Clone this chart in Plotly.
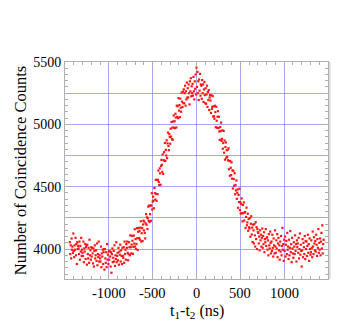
import numpy as np
import plotly.graph_objects as go

# time difference bins (ns), 5 ns spacing
x_start = -1445
x_step = 5

counts = [
    4055, 3960, 4030, 3925, 4085, 3995, 4020, 3970, 4125, 3985,
    3935, 4030, 3995, 4090, 3950, 4040, 3880, 4055, 4000, 4025,
    4005, 3960, 4060, 3915, 4025, 3980, 4090, 3945, 3995, 3970,
    3945, 4060, 3895, 4005, 3980, 4040, 3920, 4015, 4030, 3875,
    4035, 3960, 3925, 4010, 3890, 4075, 3950, 3990, 3915, 4015,
    3940, 4010, 3965, 3885, 4005, 3860, 3985, 4030, 3925, 3950,
    3990, 3905, 4045, 3870, 3960, 3935, 4060, 3900, 3950, 3925,
    3900, 4020, 3855, 3965, 3940, 3995, 3880, 3975, 4000, 3835,
    4000, 3925, 3890, 3975, 3855, 4040, 3915, 3955, 3880, 3980,
    3915, 3985, 3940, 3860, 3975, 3810, 3960, 4005, 3895, 3930,
    3985, 3900, 4030, 3865, 3950, 3920, 4055, 3895, 3945, 3970,
    3910, 4010, 3875, 3980, 3955, 4035, 3900, 3990, 3945, 3880,
    4010, 3945, 3930, 4015, 3890, 4060, 3960, 3995, 3915, 4040,
    4010, 4060, 3970, 3910, 3960, 4055, 4015, 3950, 4110, 4015,
    3965, 4036, 4106, 4067, 3962, 4018, 4108, 4044, 4159, 4020,
    4080, 4001, 4041, 4167, 4087, 3993, 4138, 4169, 4089, 4145,
    4075, 4172, 4223, 4060, 4127, 4168, 4065, 4197, 4228, 4150,
    4220, 4130, 4085, 4205, 4280, 4195, 4255, 4160, 4245, 4340,
    4225, 4348, 4217, 4280, 4348, 4227, 4350, 4448, 4317, 4380,
    4420, 4388, 4327, 4490, 4448, 4397, 4555, 4443, 4387, 4555,
    4440, 4554, 4629, 4538, 4513, 4647, 4607, 4516, 4666, 4715,
    4675, 4619, 4759, 4603, 4713, 4777, 4707, 4851, 4706, 4795,
    4750, 4872, 4729, 4847, 4934, 4826, 4793, 4921, 4898, 4845,
    4965, 4902, 5019, 4882, 4974, 4876, 5023, 5071, 4973, 5025,
    4970, 5085, 5055, 4975, 5150, 5060, 5145, 5050, 5210, 5110,
    5155, 5058, 5206, 5133, 5101, 5254, 5182, 5139, 5262, 5170,
    5280, 5170, 5250, 5310, 5150, 5265, 5200, 5335, 5215, 5290,
    5215, 5320, 5250, 5160, 5345, 5265, 5370, 5225, 5305, 5250,
    5325, 5230, 5380, 5265, 5200, 5345, 5285, 5400, 5240, 5455,
    5300, 5420, 5250, 5345, 5195, 5360, 5270, 5405, 5230, 5320,
    5310, 5205, 5355, 5250, 5320, 5180, 5280, 5340, 5235, 5170,
    5290, 5165, 5240, 5310, 5140, 5260, 5195, 5275, 5115, 5215,
    5235, 5191, 5092, 5233, 5124, 5141, 5227, 5063, 5144, 5065,
    5045, 5149, 5098, 4977, 5141, 5029, 4973, 5062, 5106, 4970,
    5060, 4943, 4876, 4978, 4946, 5014, 4867, 4884, 4952, 4805,
    4850, 4947, 4773, 4870, 4717, 4818, 4855, 4732, 4793, 4740,
    4795, 4712, 4808, 4640, 4707, 4588, 4705, 4652, 4593, 4695,
    4565, 4631, 4486, 4627, 4562, 4508, 4608, 4439, 4514, 4470,
    4550, 4403, 4451, 4478, 4331, 4434, 4377, 4484, 4312, 4375,
    4285, 4361, 4406, 4287, 4222, 4353, 4288, 4374, 4229, 4295,
    4295, 4169, 4258, 4332, 4191, 4214, 4283, 4147, 4241, 4175,
    4165, 4249, 4099, 4203, 4263, 4117, 4172, 4056, 4196, 4150,
    4045, 4200, 4110, 4020, 4215, 4080, 4175, 4000, 4160, 4135,
    4130, 4045, 4100, 3990, 4150, 4070, 4115, 4020, 4090, 4165,
    4010, 4105, 4040, 4135, 3975, 4080, 4055, 4160, 4025, 4090,
    4095, 3995, 4070, 3950, 4120, 4030, 4005, 4140, 4050, 3965,
    4060, 3985, 4115, 4010, 3940, 4085, 4030, 3965, 4150, 4020,
    3970, 4070, 4005, 4120, 3935, 4045, 4090, 3990, 4030, 3915,
    4060, 3980, 4105, 3950, 4025, 4170, 3995, 4040, 3905, 4075,
    3985, 4100, 3940, 4035, 4065, 3960, 4130, 3995, 4020, 3920,
    4075, 3950, 4010, 4145, 3975, 4040, 3895, 4090, 4005, 3965,
    3930, 4055, 4020, 3960, 4110, 3985, 4040, 3900, 4070, 4015,
    4045, 3970, 4090, 3925, 4000, 4125, 3955, 4035, 3985, 3860,
    3990, 4080, 3935, 4050, 4015, 3960, 4105, 3920, 4065, 4000,
    4060, 3945, 4025, 4115, 3970, 4040, 3905, 4085, 4000, 3955,
    3975, 4070, 4010, 3935, 4140, 4020, 3960, 4095, 4045, 3990,
    4065, 3980, 4115, 4035, 3945, 4080, 4010, 4160, 3970, 4050,
    3995, 4085, 3950, 4060, 4130, 4005, 4190, 3965, 4040, 4075,
]

time_ns = x_start + x_step * np.arange(len(counts))

x_tickvals = [-1000, -500, 0, 500, 1000]
x_ticktext = ["-1000", "-500", "0", "500", "1000"]
y_tickvals = [4000, 4250, 4500, 4750, 5000, 5250, 5500]
y_ticktext = ["4000", "", "4500", "", "5000", "", "5500"]
x_title = "t<sub>1</sub>-t<sub>2</sub> (ns)"
y_title = "Number of Coincidence Counts"

FONT = "Liberation Serif, Times New Roman, serif"
GRID = "rgba(130,130,235,0.7)"
FRAME = "rgb(175,175,175)"

fig = go.Figure()
fig.add_trace(go.Scatter(
    x=time_ns, y=counts, mode="markers",
    marker=dict(symbol="square", size=2.2, color="rgb(255,20,20)", line=dict(width=0)),
    hoverinfo="skip", showlegend=False,
))

# page body has an 8px margin, so the figure is sized/offset to compensate
fig.update_layout(
    width=338, height=321,
    margin=dict(l=54, r=18, t=54, b=50),
    paper_bgcolor="white", plot_bgcolor="white",
    font=dict(family=FONT, color="black", size=14),
)
# x tick labels drawn as text just under the axis
for v, t in zip(x_tickvals, x_ticktext):
    fig.add_annotation(x=v, xref="x", y=0, yref="paper", text=t, showarrow=False,
                       yanchor="top", yshift=-5, borderpad=0,
                       font=dict(size=14.5, family=FONT, color="black"))
# x axis title
fig.add_annotation(x=0.5, xref="paper", y=0, yref="paper", text=x_title, showarrow=False,
                   yanchor="top", yshift=-22, borderpad=0,
                   font=dict(size=16, family=FONT, color="black"))

# light grey band along the right edge of the frame
fig.add_shape(type="rect", xref="paper", yref="paper", x0=1.0, x1=1.01, y0=0, y1=1,
              fillcolor="rgb(218,218,218)", line=dict(width=0), layer="below")

fig.update_xaxes(
    range=[-1500, 1500], tickvals=x_tickvals, showticklabels=False,
    showgrid=True, gridcolor=GRID, gridwidth=1, zeroline=False,
    showline=True, linecolor=FRAME, linewidth=1, mirror="ticks",
    ticks="inside", ticklen=5, tickcolor=FRAME,
    minor=dict(dtick=100, tick0=0, ticks="inside", ticklen=3, tickcolor=FRAME, showgrid=False),
)
fig.update_yaxes(
    range=[3760, 5500], tickvals=y_tickvals, ticktext=y_ticktext,
    showgrid=True, gridcolor=GRID, gridwidth=1, zeroline=False,
    showline=True, linecolor=FRAME, linewidth=1, mirror="ticks",
    ticks="inside", ticklen=5, tickcolor=FRAME,
    minor=dict(dtick=50, tick0=0, ticks="inside", ticklen=3, tickcolor=FRAME, showgrid=False),
    tickfont=dict(size=14, family=FONT),
    title=dict(text=y_title, font=dict(size=16.5, family=FONT), standoff=2),
)

fig.write_html("out.html")
